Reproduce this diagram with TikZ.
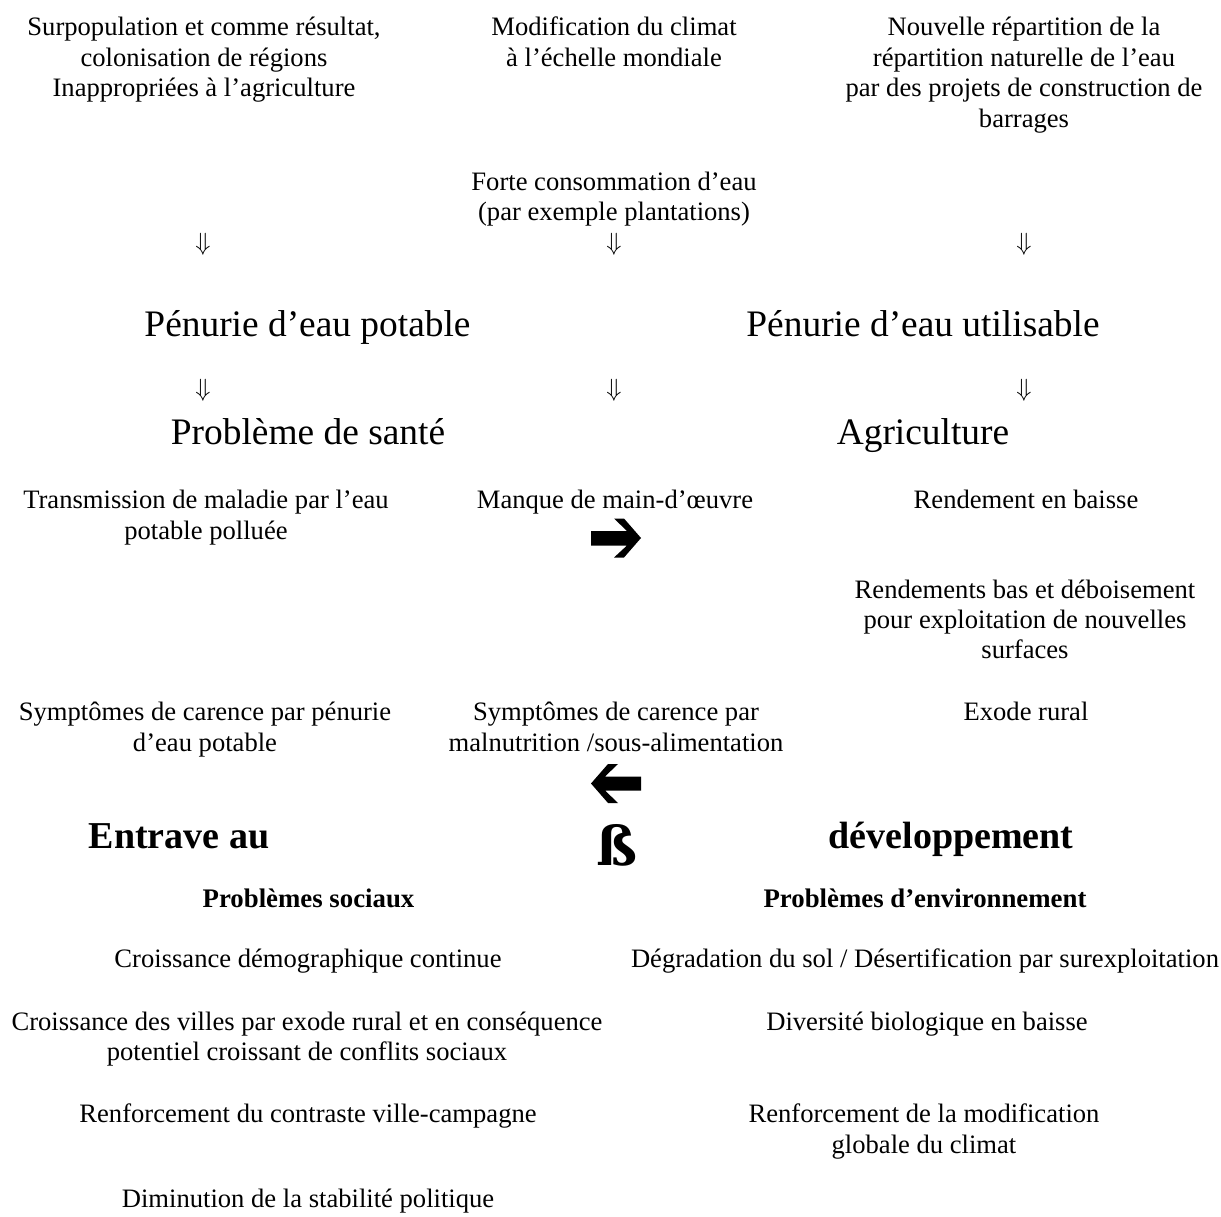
\documentclass[tikz,border=0pt]{standalone}
\usepackage{fontspec}
\setmainfont{Liberation Serif}
\newfontfamily\betafont{DejaVu Serif}
\begin{document}
\begin{tikzpicture}[x=1pt,y=-1pt,
  every node/.style={inner sep=0pt},
  txt/.style={anchor=base,font=\fontsize{26.6}{30.5}\selectfont},
  big/.style={anchor=base,font=\fontsize{37.4}{42}\selectfont},
  bighead/.style={anchor=base,font=\fontsize{38}{42}\selectfont\bfseries},
  subhead/.style={anchor=base,font=\fontsize{26.8}{30}\selectfont\bfseries},
  darr/.style={anchor=center,font=\fontsize{28}{30}\selectfont},
  fatarrow/.style={fill=black,draw=none}]
\useasboundingbox (0,0) rectangle (1221,1217);

% top row
\node[txt] (a1) at (204,35.2) {Surpopulation et comme résultat,};
\node[txt] (a2) at (204,66.3) {colonisation de régions};
\node[txt] (a3) at (204,97) {Inappropriées à l’agriculture};
\node[txt] (b1) at (614,35.2) {Modification du climat};
\node[txt] (b2) at (614,66.3) {à l’échelle mondiale};
\node[txt] (c1) at (1024,35.2) {Nouvelle répartition de la};
\node[txt] (c2) at (1024,66.3) {répartition naturelle de l’eau};
\node[txt] (c3) at (1024,97) {par des projets de construction de};
\node[txt] (c4) at (1024,127.5) {barrages};
\node[txt] (d1) at (614,190.5) {Forte consommation d’eau};
\node[txt] (d2) at (614,221) {(par exemple plantations)};

% first arrows
\node[darr] (r1a) at (203,244) {$\Downarrow$};
\node[darr] (r1b) at (614,244) {$\Downarrow$};
\node[darr] (r1c) at (1024,244) {$\Downarrow$};

\node[big] (pp) at (307.5,336) {Pénurie d’eau potable};
\node[big] (pu) at (923,336) {Pénurie d’eau utilisable};

\node[darr] (r2a) at (203,390) {$\Downarrow$};
\node[darr] (r2b) at (614,390) {$\Downarrow$};
\node[darr] (r2c) at (1024,390) {$\Downarrow$};

\node[big] (ps) at (308,444) {Problème de santé};
\node[big] (ag) at (923,444) {Agriculture};

\node[txt] (e1) at (206,508.4) {Transmission de maladie par l’eau};
\node[txt] (e2) at (206,539.5) {potable polluée};
\node[txt] (f1) at (615,508.4) {Manque de main-d’œuvre};
\node[txt] (g1) at (1026,508.4) {Rendement en baisse};

% bold right arrow
\fill[fatarrow] (591,531) -- (627,531) -- (614,518.5) -- (624,518.5) -- (641,538)
  -- (624,557.5) -- (614,557.5) -- (627,545.5) -- (591,545.5) -- cycle;

\node[txt] (h1) at (1025,598) {Rendements bas et déboisement};
\node[txt] (h2) at (1025,628.5) {pour exploitation de nouvelles};
\node[txt] (h3) at (1025,658) {surfaces};

\node[txt] (i1) at (205,720.4) {Symptômes de carence par pénurie};
\node[txt] (i2) at (205,751) {d’eau potable};
\node[txt] (j1) at (616,720.4) {Symptômes de carence par};
\node[txt] (j2) at (616,751) {malnutrition /sous-alimentation};
\node[txt] (k1) at (1026,720.4) {Exode rural};

% bold left arrow
\fill[fatarrow] (641,776.5) -- (605,776.5) -- (618,764) -- (608,764) -- (591,783.5)
  -- (608,803) -- (618,803) -- (605,790.5) -- (641,790.5) -- cycle;

\node[bighead] (en) at (179,848.5) {Entrave au};
\node[anchor=base,font=\fontsize{54}{58}\selectfont\betafont\bfseries] (sz) at (617,865) {ß};
\node[bighead] (dv) at (951,848.5) {développement};

\node[subhead] (ps2) at (308.5,907) {Problèmes sociaux};
\node[subhead] (pe) at (925,907) {Problèmes d’environnement};

\node[txt] (l1) at (308,967.5) {Croissance démographique continue};
\node[txt] (m1) at (925,967.5) {Dégradation du sol / Désertification par surexploitation};
\node[txt] (l2) at (307,1030) {Croissance des villes par exode rural et en conséquence};
\node[txt] (l3) at (307,1060.5) {potentiel croissant de conflits sociaux};
\node[txt] (m2) at (927,1030) {Diversité biologique en baisse};
\node[txt] (l4) at (308,1122.5) {Renforcement du contraste ville-campagne};
\node[txt] (m3) at (924,1122.5) {Renforcement de la modification};
\node[txt] (m4) at (924,1153) {globale du climat};
\node[txt] (l5) at (308,1207) {Diminution de la stabilité politique};
\end{tikzpicture}
\end{document}
